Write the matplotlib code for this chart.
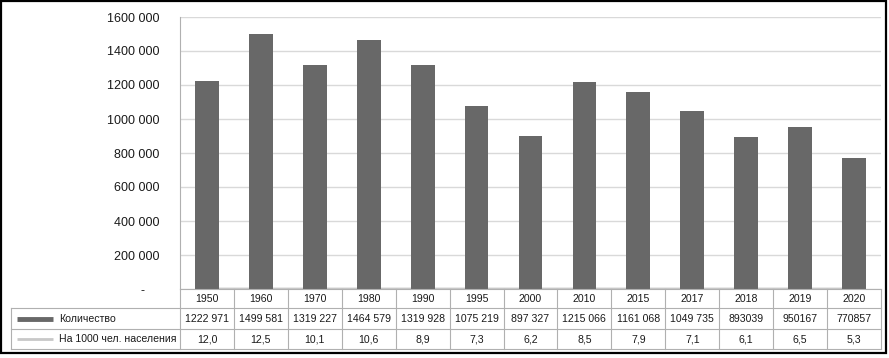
import matplotlib
matplotlib.use("Agg")
import matplotlib.pyplot as plt
from matplotlib.patches import Rectangle

years = ["1950", "1960", "1970", "1980", "1990", "1995", "2000", "2010",
         "2015", "2017", "2018", "2019", "2020"]
counts = [1222971, 1499581, 1319227, 1464579, 1319928, 1075219, 897327,
          1215066, 1161068, 1049735, 893039, 950167, 770857]
count_labels = ["1222 971", "1499 581", "1319 227", "1464 579", "1319 928",
                "1075 219", "897 327", "1215 066", "1161 068", "1049 735",
                "893039", "950167", "770857"]
per1000 = [12.0, 12.5, 10.1, 10.6, 8.9, 7.3, 6.2, 8.5, 7.9, 7.1, 6.1, 6.5, 5.3]
per1000_labels = ["12,0", "12,5", "10,1", "10,6", "8,9", "7,3", "6,2", "8,5",
                  "7,9", "7,1", "6,1", "6,5", "5,3"]
series_names = ["Количество", "На 1000 чел. населения"]
yticks = [0, 200000, 400000, 600000, 800000, 1000000, 1200000, 1400000, 1600000]
ytick_labels = ["-    ", "200 000", "400 000", "600 000", "800 000", "1000 000",
                "1200 000", "1400 000", "1600 000"]

W, H = 889, 358
plt.rcParams['font.family'] = ['Liberation Sans', 'DejaVu Sans']
fig = plt.figure(figsize=(W / 100, H / 100), dpi=100)

bar_color = "#686868"
line_color = "#c8c8c8"
grid_color = "#d9d9d9"
border_color = "#b0b0b0"
text_color = "#1a1a1a"

# main plot area (pixel layout)
ax_l, ax_r, ax_t, ax_b = 180, 881, 17, 289
ax = fig.add_axes([ax_l / W, 1 - ax_b / H, (ax_r - ax_l) / W, (ax_b - ax_t) / H])
x = list(range(len(years)))
ax.bar(x, counts, width=0.44, color=bar_color, zorder=3)
ax.plot(x, per1000, color=line_color, lw=2, zorder=2)
ax.set_xlim(-0.5, len(years) - 0.5)
ax.set_ylim(0, 1600000)
ax.set_yticks(yticks)
ax.set_yticklabels(ytick_labels, fontsize=9, color=text_color)
ax.tick_params(axis='y', length=0, pad=15)
ax.set_xticks([])
ax.grid(axis='y', color=grid_color, lw=1, zorder=0)
for s in ["top", "right", "bottom"]:
    ax.spines[s].set_visible(False)
ax.spines["left"].set_color(border_color)
ax.spines["left"].set_linewidth(0.8)

# overlay axes in pixel coordinates for the data table
ov = fig.add_axes([0, 0, 1, 1], facecolor="none")
ov.set_xlim(0, W)
ov.set_ylim(H, 0)
ov.axis("off")

n = len(years)
colw = (ax_r - ax_l) / n
r0, r1, r2, r3 = 289, 308, 329, 349
leg_l = 11
lw_b = 0.8
# horizontal lines
ov.plot([ax_l, ax_r], [r0, r0], color=border_color, lw=lw_b)
for yy in (r1, r2, r3):
    ov.plot([leg_l, ax_r], [yy, yy], color=border_color, lw=lw_b)
# vertical lines
for i in range(n + 1):
    xx = ax_l + i * colw
    ov.plot([xx, xx], [r0, r3], color=border_color, lw=lw_b)
ov.plot([leg_l, leg_l], [r1, r3], color=border_color, lw=lw_b)

fs = 7.6
for i in range(n):
    cx = ax_l + (i + 0.5) * colw
    ov.text(cx, (r0 + r1) / 2, years[i], ha="center", va="center", fontsize=fs, color=text_color)
    ov.text(cx, (r1 + r2) / 2, count_labels[i], ha="center", va="center", fontsize=fs, color=text_color)
    ov.text(cx, (r2 + r3) / 2, per1000_labels[i], ha="center", va="center", fontsize=fs, color=text_color)

# legend cells
ym1 = (r1 + r2) / 2
ym2 = (r2 + r3) / 2
ov.plot([17, 53], [ym1, ym1], color=bar_color, lw=3.5, solid_capstyle="butt")
ov.plot([17, 53], [ym2, ym2], color=line_color, lw=2, solid_capstyle="butt")
ov.text(59, ym1, series_names[0], ha="left", va="center", fontsize=fs, color=text_color)
ov.text(59, ym2, series_names[1], ha="left", va="center", fontsize=fs, color=text_color)

# outer frame
ov.add_patch(Rectangle((1, 1), 885, 352, fill=False, edgecolor="black", lw=1.6))

fig.savefig("out.png", dpi=100, facecolor="white")
